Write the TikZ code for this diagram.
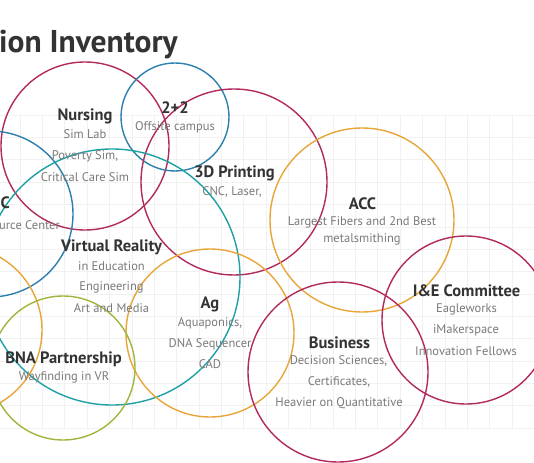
\documentclass[tikz,border=0pt]{standalone}
\usepackage{fontspec}
\setmainfont{PT Sans}
\definecolor{crim}{HTML}{B22A5E}
\definecolor{cblue}{HTML}{2D80AE}
\definecolor{cteal}{HTML}{1FA0A6}
\definecolor{corange}{HTML}{E8A63A}
\definecolor{colive}{HTML}{A2B43C}
\definecolor{gridc}{HTML}{F1F1F1}
\definecolor{hdark}{HTML}{333333}
\definecolor{tgray}{HTML}{7A7A7A}
\tikzset{
  ring/.style={line width=1.4pt},
  head/.style={text=hdark, font=\fontsize{16.5}{19}\selectfont\bfseries, inner sep=0pt},
  sub/.style={text=tgray, font=\fontsize{12.5}{15}\selectfont, inner sep=0pt},
}
\begin{document}
\begin{tikzpicture}[x=1pt,y=-1pt]
\useasboundingbox (0,0) rectangle (534,462);
\clip (0,0) rectangle (534,462);
\fill[white] (0,0) rectangle (534,462);
% grid
\foreach \i in {0,...,23} \draw[gridc, line width=0.6pt] ({20+22.36*\i},115) -- ({20+22.36*\i},428);
\foreach \j in {0,...,14} \draw[gridc, line width=0.6pt] (0,{115+22.36*\j}) -- (534,{115+22.36*\j});
% title
\node[anchor=base west, inner sep=0pt, text=hdark, font=\fontsize{31.5}{36}\selectfont\bfseries] (title) at (-1,53) {ion Inventory};
% circles
\draw[ring, crim] (85,146) circle (84);
\draw[ring, cblue] (175,117) circle (54);
\draw[ring, crim] (234,182) circle (93);
\draw[ring, corange] (362,220) circle (92);
\draw[ring, cblue] (-10,214) circle (83);
\draw[ring, cteal] (112,277) circle (128);
\draw[ring, corange] (210,333) circle (84);
\draw[ring, corange] (-42,330) circle (84);
\draw[ring, colive] (63,368) circle (72);
\draw[ring, crim] (338,372) circle (90);
\draw[ring, crim] (466,320) circle (84);
% labels
\node[head] (nurs) at (85,116) {Nursing};
\node[sub] (nurs1) at (85,134) {Sim Lab};
\node[sub] (nurs2) at (85,156) {Poverty Sim,};
\node[sub] (nurs3) at (85,177) {Critical Care Sim};
\node[head] (tt) at (175,108) {2+2};
\node[sub] (tt1) at (175,127) {Offsite campus};
\node[head] (print) at (234.5,173) {3D Printing};
\node[sub] (print1) at (232,192) {CNC, Laser,};
\node[head] (acc) at (362.5,204) {ACC};
\node[sub] (acc1) at (362,222) {Largest Fibers and 2nd Best};
\node[sub] (acc2) at (362,239) {metalsmithing};
\node[head, anchor=west] (rc) at (0.5,203) {C};
\node[sub, anchor=west] (rc1) at (-1,225) {urce Center};
\node[head] (vr) at (111.5,247) {Virtual Reality};
\node[sub] (vr1) at (111.5,266) {in Education};
\node[sub] (vr2) at (111.5,287) {Engineering};
\node[sub] (vr3) at (111.5,308) {Art and Media};
\node[head] (ag) at (210,304) {Ag};
\node[sub] (ag1) at (210,323) {Aquaponics,};
\node[sub] (ag2) at (210,344) {DNA Sequencer};
\node[sub] (ag3) at (210,364) {CAD};
\node[head] (bna) at (63.5,359) {BNA Partnership};
\node[sub] (bna1) at (64,377) {Wayfinding in VR};
\node[head] (bus) at (339.5,343) {Business};
\node[sub] (bus1) at (338.5,361) {Decision Sciences,};
\node[sub] (bus2) at (339,382) {Certificates,};
\node[sub] (bus3) at (339,403) {Heavier on Quantitative};
\node[head] (ie) at (466.5,291) {I\&E Committee};
\node[sub] (ie1) at (466.5,309) {Eagleworks};
\node[sub] (ie2) at (466,330) {iMakerspace};
\node[sub] (ie3) at (466,351) {Innovation Fellows};
\end{tikzpicture}
\end{document}
